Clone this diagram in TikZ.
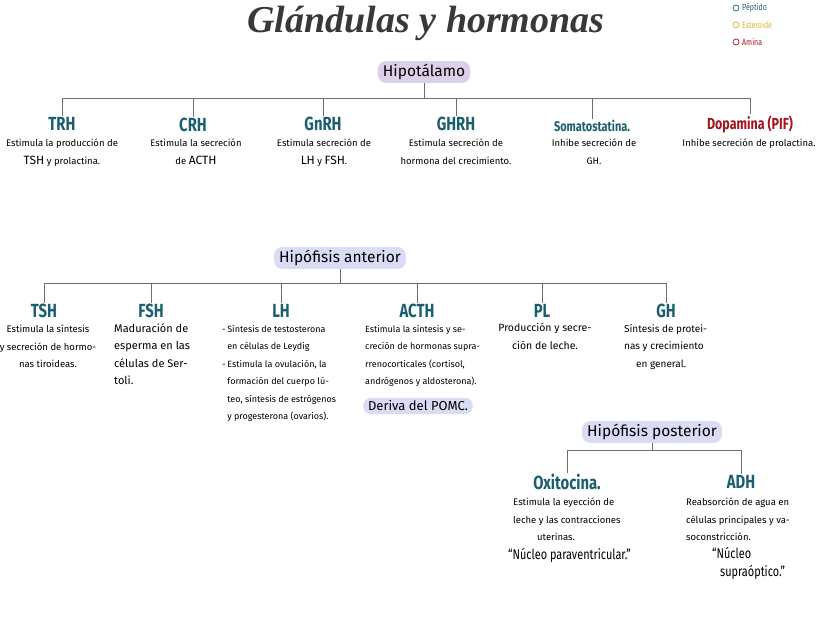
\documentclass[tikz,border=0pt]{standalone}
\usepackage{fontspec}
\setmainfont{Fira Sans}
\newfontfamily\titlefont{Liberation Serif}
\newfontfamily\headfont[FakeStretch=0.78]{Fira Sans}
\usetikzlibrary{positioning}

\definecolor{peptido}{HTML}{1B5F6E}
\definecolor{esteroide}{HTML}{D9B526}
\definecolor{amina}{HTML}{A3141E}
\definecolor{lineagris}{HTML}{6E6E6E}
\definecolor{lila}{HTML}{DCD0E8}
\definecolor{azulclaro}{HTML}{DADCF6}

\tikzset{
  glandula/.style={rounded corners=8pt, inner xsep=5pt, inner ysep=3pt, font=\fontsize{15.5}{15.5}\selectfont},
  hormona/.style={text=peptido, font=\headfont\bfseries\fontsize{19}{19}\selectfont, inner sep=1pt},
  funcion/.style={font=\fontsize{9.5}{17.5}\selectfont, inner sep=0pt},
  rama/.style={draw=lineagris, line width=0.9pt},
}

\begin{document}
\begin{tikzpicture}[x=1pt, y=-1pt]
    \useasboundingbox (0,0) rectangle (829,640);

    % Title and legend
    \node[text=black!78] (titulo) at (426,23) {\titlefont\itshape\bfseries\fontsize{38}{38}\selectfont Glándulas y hormonas};
    \foreach \y/\col/\txt in {8/peptido/Péptido, 25/esteroide/Esteroide, 42/amina/Amina} {
        \draw[\col, line width=0.7pt] (736,\y) circle (3);
        \node[anchor=west, text=\col, font=\headfont\fontsize{9}{9}\selectfont, inner sep=0pt] (ley-\y) at (742,\y) {\txt};
    }

    % Hipotalamo
    \node[glandula, fill=lila] (hipo) at (424,72) {Hipotálamo};
    \coordinate (hbar) at (424,98);
    \node[hormona] (trh) at (62,124) {TRH};
    \node[hormona] (crh) at (193,125) {CRH};
    \node[hormona] (gnrh) at (323,124) {GnRH};
    \node[hormona] (ghrh) at (456,124) {GHRH};
    \node[hormona, font=\headfont\bfseries\fontsize{14}{14}\selectfont] (soma) at (592,126) {Somatostatina.};
    \node[hormona, text=amina, font=\headfont\bfseries\fontsize{16}{16}\selectfont] (dopa) at (750,124) {Dopamina (PIF)};
    \draw[rama] (hipo) -- (hbar);
    \foreach \h in {trh,crh,gnrh,ghrh,soma,dopa}
        \draw[rama] (hbar) -| (\h.north);

    \node[funcion, align=center, anchor=north] (trh-f) at (62,139) {Estimula la producción de\\{\large TSH} y prolactina.};
    \node[funcion, align=center, anchor=north] (crh-f) at (196,139) {Estimula la secreción\\de {\large ACTH}};
    \node[funcion, align=center, anchor=north] (gnrh-f) at (324,139) {Estimula secreción de\\{\large LH} y {\large FSH}.};
    \node[funcion, align=center, anchor=north] (ghrh-f) at (456,139) {Estimula secreción de\\hormona del crecimiento.};
    \node[funcion, align=center, anchor=north] (soma-f) at (594,139) {Inhibe secreción de\\GH.};
    \node[funcion, align=center, anchor=north] (dopa-f) at (749,139) {Inhibe secreción de prolactina.};

    % Hipofisis anterior
    \node[glandula, fill=azulclaro] (ant) at (340,258) {Hipófisis anterior};
    \coordinate (abar) at (340,283);
    \node[hormona] (tsh) at (44,311) {TSH};
    \node[hormona] (fsh) at (151,311) {FSH};
    \node[hormona] (lh) at (281,311) {LH};
    \node[hormona] (acth) at (417,311) {ACTH};
    \node[hormona] (pl) at (542,311) {PL};
    \node[hormona] (gh) at (666,311) {GH};
    \draw[rama] (ant) -- (abar);
    \foreach \h in {tsh,fsh,lh,acth,pl,gh}
        \draw[rama] (abar) -| (\h.north);

    \node[funcion, align=center, anchor=north] (tsh-f) at (48,325) {Estimula la síntesis\\y secreción de hormo-\\nas tiroideas.};
    \node[funcion, align=left, anchor=north west, font=\fontsize{11}{17.5}\selectfont] (fsh-f) at (114,323) {Maduración de\\esperma en las\\células de Ser-\\toli.};
    \node[funcion, align=left, anchor=north west, font=\fontsize{9}{17.5}\selectfont] (lh-f) at (222,325) {-\,Síntesis de testosterona\\\phantom{-\,}en células de Leydig\\-\,Estimula la ovulación, la\\\phantom{-\,}formación del cuerpo lú-\\\phantom{-\,}teo, síntesis de estrógenos\\\phantom{-\,}y progesterona (ovarios).};
    \node[funcion, align=left, anchor=north west, font=\fontsize{9}{17.5}\selectfont] (acth-f) at (365,325) {Estimula la síntesis y se-\\creción de hormonas supra-\\rrenocorticales (cortisol,\\andrógenos y aldosterona).};
    \node[glandula, fill=azulclaro, font=\fontsize{13}{13}\selectfont] (pomc) at (418,406) {Deriva del POMC.};
    \node[funcion, align=center, anchor=north, font=\fontsize{10.5}{17.5}\selectfont] (pl-f) at (545,323) {Producción y secre-\\ción de leche.};
    \node[funcion, align=left, anchor=north west, font=\fontsize{10}{17.5}\selectfont] (gh-f) at (624,324) {Síntesis de protei-\\nas y crecimiento\\\hspace*{12pt}en general.};

    % Hipofisis posterior
    \node[glandula, fill=azulclaro] (post) at (652,432) {Hipófisis posterior};
    \coordinate (pbar) at (652,450);
    \node[hormona] (oxi) at (567,482) {Oxitocina.};
    \node[hormona] (adh) at (741,482) {ADH};
    \draw[rama] (post) -- (pbar);
    \foreach \h in {oxi,adh}
        \draw[rama] (pbar) -| (\h.north);

    \node[funcion, align=left, anchor=north west] (oxi-f) at (513,498) {Estimula la eyección de\\leche y las contracciones\\\hspace*{24pt}uterinas.};
    \node[funcion, anchor=west, font=\headfont\fontsize{14}{14}\selectfont] (oxi-n) at (508,555) {“Núcleo paraventricular.”};
    \node[funcion, align=left, anchor=north west] (adh-f) at (686,498) {Reabsorción de agua en\\células principales y va-\\soconstricción.};
    \node[funcion, align=left, anchor=north west, font=\headfont\fontsize{14}{18}\selectfont] (adh-n) at (712,547) {“Núcleo\\\hspace*{8pt}supraóptico.”};
\end{tikzpicture}
\end{document}
